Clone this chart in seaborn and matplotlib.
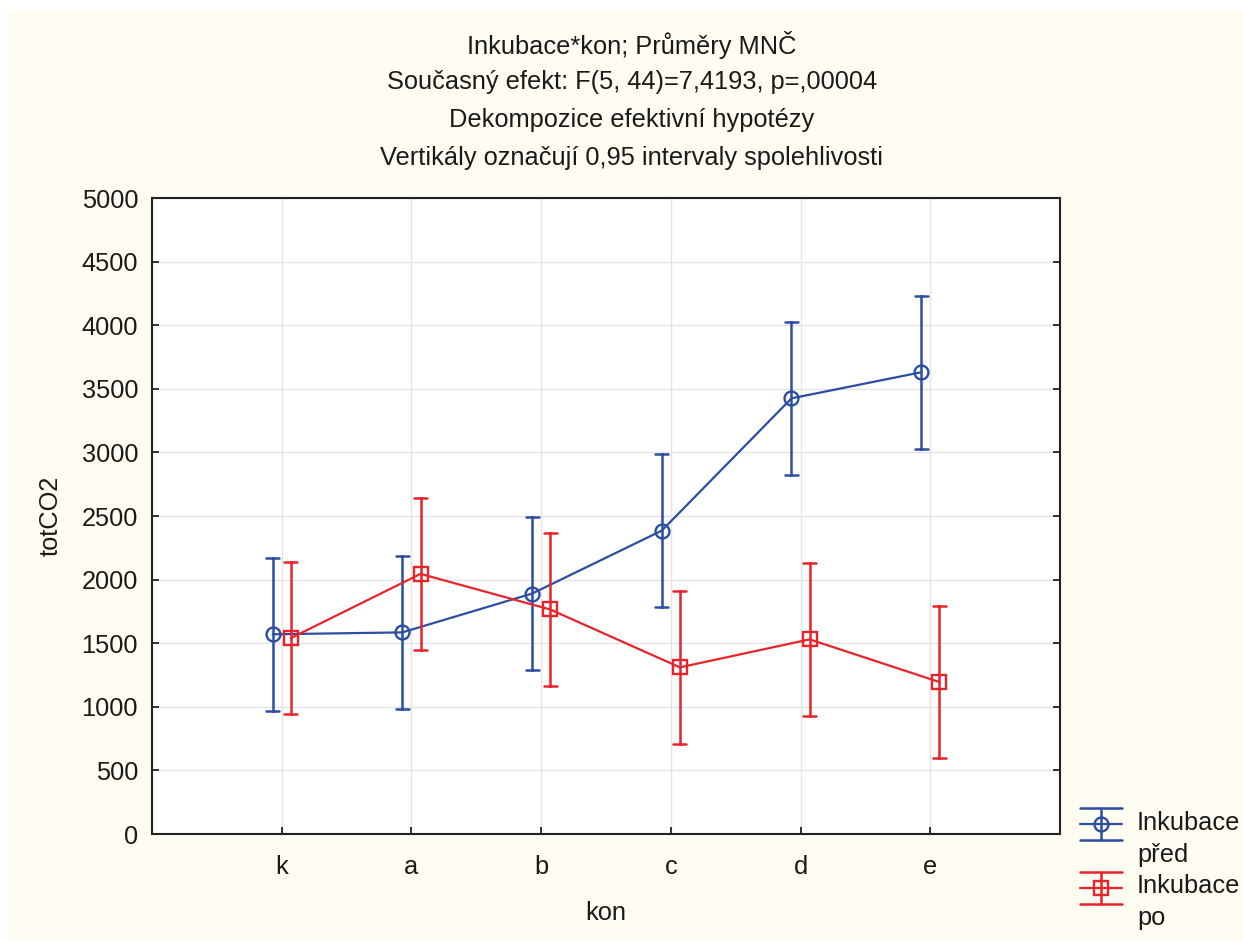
import numpy as np
import pandas as pd
import matplotlib
matplotlib.use("Agg")
import matplotlib.pyplot as plt
import seaborn as sns
from matplotlib.patches import Rectangle
from matplotlib.lines import Line2D
from matplotlib.legend_handler import HandlerBase

# ---- data ----
categories = ["k", "a", "b", "c", "d", "e"]
groups = ["Inkubace\npřed", "Inkubace\npo"]
mean_pred = [1570, 1585, 1890, 2385, 3425, 3630]
ci_pred = [600, 600, 600, 600, 600, 600]
mean_po = [1540, 2045, 1765, 1310, 1530, 1195]
ci_po = [600, 600, 600, 600, 600, 600]
y_ticks = [0, 500, 1000, 1500, 2000, 2500, 3000, 3500, 4000, 4500, 5000]
titles = ["Inkubace*kon; Průměry MNČ",
          "Současný efekt: F(5, 44)=7,4193, p=,00004",
          "Dekompozice efektivní hypotézy",
          "Vertikály označují 0,95 intervaly spolehlivosti"]

rows = []
for g, means, cis in [(groups[0], mean_pred, ci_pred), (groups[1], mean_po, ci_po)]:
    for c, m, e in zip(categories, means, cis):
        for v in (m - e, m, m + e):
            rows.append({"kon": c, "Inkubace": g, "totCO2": v})
df = pd.DataFrame(rows)

BLUE = "#2C4EA0"
RED = "#E8242A"
CREAM = "#FFFCF1"
FS = 18.3

sns.set_style("white")
plt.rcParams["font.family"] = ["Liberation Sans", "DejaVu Sans"]

fig = plt.figure(figsize=(12.43, 9.41), dpi=100, facecolor="white")
fig.patches.append(Rectangle((7 / 1243, 0), 1, 1 - 10 / 941, transform=fig.transFigure,
                             facecolor=CREAM, edgecolor="none", zorder=-10))
ax = fig.add_axes([152 / 1243, 1 - 834 / 941, (1060 - 152) / 1243, (834 - 198) / 941])
ax.set_facecolor("white")

sns.pointplot(data=df, x="kon", y="totCO2", hue="Inkubace", order=categories,
              hue_order=groups, palette=[BLUE, RED], markers=["o", "s"],
              linestyles=["-", "-"], estimator="mean",
              errorbar=lambda v: (v.min(), v.max()), dodge=0.14, capsize=0.1,
              err_kws={"linewidth": 1.8}, linewidth=1.6, markersize=10,
              legend=False, ax=ax, zorder=3)

for ln in ax.lines:
    ln.set_markerfacecolor("none")
    ln.set_markeredgewidth(1.7)

ax.set_xlim(-1, 6)
ax.set_ylim(0, 5000)
ax.set_yticks(y_ticks)
ax.set_xticks(range(len(categories)))
ax.set_xticklabels(categories)
ax.grid(True, color="#E4E4E4", linewidth=1.0, zorder=0)
ax.set_axisbelow(True)
for s in ax.spines.values():
    s.set_color("#222222")
    s.set_linewidth(1.5)
    s.set_visible(True)
ax.tick_params(axis="both", direction="in", length=5, width=1.3, color="#222222",
               labelsize=FS, labelcolor="#1a1a1a")
ax.tick_params(axis="y", right=True, left=True, pad=10)
ax.tick_params(axis="x", bottom=True, pad=15)
ax.set_xlabel("kon", fontsize=FS, labelpad=16, color="#1a1a1a")
ax.set_ylabel("totCO2", fontsize=FS, labelpad=14, color="#1a1a1a")

for i, t in enumerate(titles):
    fig.text(632 / 1243, 1 - (45 + 37.5 * i) / 941, t, ha="center", va="center",
             fontsize=FS, color="#1a1a1a")


class HandlerEB(HandlerBase):
    def create_artists(self, legend, orig_handle, xdescent, ydescent, width, height,
                       fontsize, trans):
        c = orig_handle.get_color()
        m = orig_handle.get_marker()
        x0, x1 = -xdescent, -xdescent + width
        ym = -ydescent + height / 2 + 11
        hh = 11.5
        xm = (x0 + x1) / 2
        arts = [
            Line2D([x0, x1], [ym, ym], color=c, lw=1.6),
            Line2D([x0, x1], [ym + hh, ym + hh], color=c, lw=1.8),
            Line2D([x0, x1], [ym - hh, ym - hh], color=c, lw=1.8),
            Line2D([xm, xm], [ym - hh, ym + hh], color=c, lw=1.8),
            Line2D([xm], [ym], marker=m, markersize=10, markerfacecolor="none",
                   markeredgecolor=c, markeredgewidth=1.7, lw=0),
        ]
        for a in arts:
            a.set_transform(trans)
        return arts


handles = [Line2D([], [], color=BLUE, marker="o"), Line2D([], [], color=RED, marker="s")]
leg = fig.legend(handles, groups, loc="upper left",
                 bbox_to_anchor=(1080 / 1243, 1 - 811 / 941),
                 frameon=False, fontsize=FS, handler_map={Line2D: HandlerEB()},
                 handlelength=1.65, handletextpad=0.59, labelspacing=0.31, borderpad=0,
                 borderaxespad=0)
for t in leg.get_texts():
    t.set_linespacing(1.4)
    t.set_color("#1a1a1a")

fig.savefig("out.png", dpi=100, facecolor=fig.get_facecolor())
